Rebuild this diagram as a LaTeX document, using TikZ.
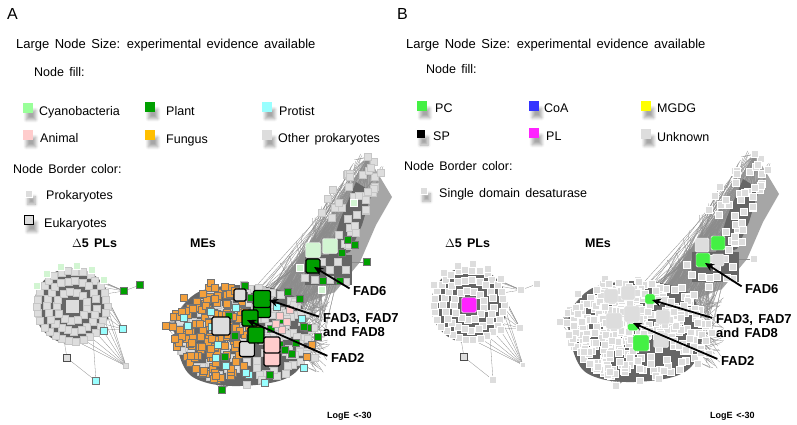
\documentclass[tikz,border=0pt]{standalone}
\usepackage{fontspec}
\setmainfont{Liberation Sans}[WordSpace=1.5]
\usetikzlibrary{arrows.meta, shadows.blur}

\definecolor{cyanokey}{HTML}{99FF99}
\definecolor{cyanolight}{HTML}{D2F5D2}
\definecolor{plantgreen}{HTML}{00A000}
\definecolor{protistcyan}{HTML}{99FFFF}
\definecolor{animalpink}{HTML}{FFCCCC}
\definecolor{funguskey}{HTML}{FFBF00}
\definecolor{fungusnet}{HTML}{F3A03C}
\definecolor{othergray}{HTML}{DDDDDD}
\definecolor{pcgreen}{HTML}{44F044}
\definecolor{coablue}{HTML}{3333FF}
\definecolor{mgdgyellow}{HTML}{FFFF00}
\definecolor{plmagenta}{HTML}{FF22FF}
\definecolor{edgedark}{HTML}{666666}

\tikzset{
  panel_label/.style={anchor=base west, inner sep=0pt, font=\fontsize{16}{18}\selectfont},
  head_text/.style={anchor=base west, inner sep=0pt, font=\fontsize{13}{15}\selectfont},
  legend_text/.style={anchor=base west, inner sep=0pt, font=\fontsize{12.5}{14}\selectfont},
  key_sq/.style={rectangle, inner sep=0pt, minimum size=9.5pt,
    blur shadow={shadow xshift=3pt, shadow yshift=-7pt, shadow blur steps=6, shadow blur radius=3pt, shadow opacity=35}},
  cluster_label/.style={anchor=base west, inner sep=0pt, font=\fontsize{12.5}{14}\selectfont\bfseries},
  fad_label/.style={anchor=base west, inner sep=0pt, font=\fontsize{13}{14.5}\selectfont\bfseries, align=left},
  fad_arrow/.style={-{Stealth[length=9pt,width=8pt]}, line width=1.8pt, shorten <=4pt},
  loge_label/.style={anchor=base west, inner sep=0pt, font=\fontsize{9}{10}\selectfont\bfseries},
  edge_line/.style={draw=gray!90, line width=0.3pt},
  dense_fill/.style={fill=edgedark},
  arm_fill/.style={fill=gray!70},
  net_sq/.style={rectangle, inner sep=0pt, minimum size=7pt, line width=0.4pt},
  othernode/.style={net_sq, fill=othergray, draw=gray!45},
  cyanonode/.style={net_sq, fill=cyanolight, draw=white},
  fungusnode/.style={net_sq, fill=fungusnet, draw=black!55},
  plantnode/.style={net_sq, fill=plantgreen, draw=black!55},
  protistnode/.style={net_sq, fill=protistcyan, draw=black!55},
  animalnode/.style={net_sq, fill=animalpink, draw=black!35},
  unknownnode/.style={net_sq, fill=othergray, draw=white, line width=0.6pt},
  big_sq/.style={rectangle, rounded corners=1.5pt, inner sep=0pt, minimum size=16pt},
  euk_border/.style={draw=black, line width=1.2pt}
}

% Delta5 PL cluster (panel A coordinates)
\newcommand{\deltanet}{%
  \pgfmathsetseed{3}
  \coordinate (d-c) at (72,306);
  \coordinate (d-o1) at (124,291);
  \coordinate (d-o2) at (140,285);
  \coordinate (d-o3) at (104,331);
  \coordinate (d-o4) at (123,329);
  \coordinate (d-o5) at (126,366);
  \coordinate (d-o6) at (67,358);
  \coordinate (d-o7) at (96,381);
  \foreach \a in {-85,-72,...,-10}{\draw[edge_line] ({72+35*cos(\a)},{306+35*sin(\a)}) -- (d-o1);}
  \foreach \a in {-35,-22,...,45}{\draw[edge_line] ({72+35*cos(\a)},{306+35*sin(\a)}) -- (d-o4);}
  \foreach \a in {0,12,...,84}{\draw[edge_line] ({72+35*cos(\a)},{306+35*sin(\a)}) -- (d-o5);}
  \draw[edge_line] (d-o1) -- (d-o2);
  \draw[edge_line] (d-o6) -- (d-o7);
  \draw[edge_line] (d-o6) -- (64,340);
  \draw[edge_line] (d-o7) -- (93,338);
  \fill[dense_fill] (d-c) circle[radius=38];
  \foreach \a [count=\k] in {0,12,...,350}{\node[othernode] (d-r\k) at ({72+35*cos(\a)+2*rnd-1},{306+35*sin(\a)+2*rnd-1}) {};}
  \foreach \a [count=\k] in {5,21,...,355}{\node[othernode] (d-s\k) at ({72+25*cos(\a)+2*rnd-1},{306+25*sin(\a)+2*rnd-1}) {};}
  \foreach \a [count=\k] in {10,38,...,355}{\node[othernode] (d-t\k) at ({72+15*cos(\a)+rnd-0.5},{306+15*sin(\a)+rnd-0.5}) {};}
  \foreach \a in {-150,-128,...,-40}{\node[cyanonode] (d-u\a) at ({72+41*cos(\a)},{306+41*sin(\a)}) {};}
  \node[othernode, draw=none, minimum size=13pt] (d-core) at (d-c) {};
  \node[plantnode] (d-n1) at (d-o1) {};
  \node[plantnode] (d-n2) at (d-o2) {};
  \node[protistnode] (d-n3) at (d-o3) {};
  \node[protistnode] (d-n4) at (d-o4) {};
  \node[othernode, minimum size=5pt] (d-n5) at (d-o5) {};
  \node[othernode, draw=black!70, line width=0.8pt] (d-n6) at (d-o6) {};
  \node[protistnode] (d-n7) at (d-o7) {};
}

% edge bundle running up to the upper cluster
\newcommand{\armnet}{%
  \pgfmathsetseed{21}
  \coordinate (arm-tip) at (368,157);
  \fill[arm_fill] (arm-tip) -- (392,197) -- (376,225) -- (360,262) -- (335,292) -- (300,305) -- (268,300) -- (296,262) -- (326,222) -- (348,188) -- cycle;
  \foreach \i in {1,...,190}{
    \pgfmathsetmacro\ta{rnd}\pgfmathsetmacro\sa{rnd-0.5}
    \pgfmathsetmacro\aw{60*(1-0.5*\ta)}
    \draw[edge_line] ({250+75*rnd},{288+50*rnd}) -- ({302+70*\ta+0.87*\aw*\sa},{282-122*\ta+0.49*\aw*\sa});
  }
  \foreach \i in {1,...,30}{
    \pgfmathsetmacro\ta{0.55+0.4*rnd}\pgfmathsetmacro\sa{rnd-0.5}
    \pgfmathsetmacro\aw{60*(1-0.5*\ta)}
    \draw[edge_line] (arm-tip) -- ({302+70*\ta+0.87*\aw*\sa},{282-122*\ta+0.49*\aw*\sa});
  }
  \fill[dense_fill] (356,182) -- (372,192) -- (362,225) -- (350,252) -- (328,258) -- (340,220) -- cycle;
  \foreach \i in {1,...,38}{
    \pgfmathsetmacro\ta{0.35+0.65*rnd}\pgfmathsetmacro\sa{rnd-0.5}
    \pgfmathsetmacro\aw{60*(1-0.5*\ta)}
    \node[othernode] (arm-n\i) at ({302+70*\ta+0.87*\aw*\sa},{282-122*\ta+0.49*\aw*\sa}) {};
  }
  \node[othernode] (arm-t) at (arm-tip) {};
  \node[cyanonode] (arm-c1) at (354,203) {};
  % upper cluster around FAD6
  \fill[dense_fill] (305,255) rectangle (352,285);
  \foreach \p [count=\k] in {(322,262),(330,270),(338,262),(346,270),(330,280),(346,282),(305,278),(315,280)}{
    \node[othernode] (up-g\k) at \p {};
  }
  \node[cyanonode] (up-c1) at (300,268) {};
  \node[cyanonode] (up-c2) at (322,290) {};
  \foreach \p [count=\k] in {(348,240),(355,245),(367,262),(342,253),(323,281),(340,281)}{
    \node[plantnode] (up-p\k) at \p {};
  }
  \draw[edge_line] (up-p3) -- (352,262);
}

% main ME cluster
\newcommand{\menet}{%
  \pgfmathsetseed{5}
  \coordinate (me-left) at (166,326);
  \coordinate (me-bottom) at (222,390);
  \foreach \i in {1,...,25}{\draw[edge_line] (me-left) -- ({185+30*rnd},{298+55*rnd});}
  \foreach \i in {1,...,12}{\draw[edge_line] (me-bottom) -- ({200+45*rnd},{362+15*rnd});}
  \foreach \i in {1,...,60}{\draw[edge_line] ({265+40*rnd},{295+75*rnd}) -- ({312+18*rnd},{298+75*rnd});}
  \fill[dense_fill] plot[smooth cycle, tension=0.6] coordinates {(174,326) (187,301) (207,289) (245,285) (279,290) (300,303) (308,335) (302,364) (282,380) (240,386) (204,382) (184,367)};
  \foreach \i in {1,...,170}{
    \pgfmathsetmacro\ra{360*rnd}\pgfmathsetmacro\rr{sqrt(rnd)}
    \node[othernode] (me-g\i) at ({246+70*\rr*cos(\ra)},{335+51*\rr*sin(\ra)}) {};
  }
  \foreach \i in {1,...,170}{
    \pgfmathsetmacro\ra{360*rnd}\pgfmathsetmacro\rr{sqrt(rnd)}
    \node[fungusnode] (me-f\i) at ({214+42*\rr*cos(\ra)},{331+51*\rr*sin(\ra)}) {};
  }
  \foreach \i in {1,...,16}{
    \pgfmathsetmacro\ra{360*rnd}\pgfmathsetmacro\rr{sqrt(rnd)}
    \node[protistnode] (me-c\i) at ({240+70*\rr*cos(\ra)},{340+48*\rr*sin(\ra)}) {};
  }
  \foreach \i in {1,...,18}{
    \pgfmathsetmacro\ra{360*rnd}\pgfmathsetmacro\rr{sqrt(rnd)}
    \node[plantnode] (me-p\i) at ({255+62*\rr*cos(\ra)},{332+50*\rr*sin(\ra)}) {};
  }
  \foreach \p [count=\k] in {(280,316),(287,322),(282,330),(290,310),(276,324)}{
    \node[animalnode] (me-a\k) at \p {};
  }
  \node[plantnode] (me-e1) at (318,337) {};
  \node[fungusnode] (me-e2) at (312,345) {};
  \node[fungusnode] (me-e3) at (307,357) {};
  \node[othernode] (me-e4) at (315,358) {};
  \node[protistnode] (me-e5) at (304,368) {};
  \node[fungusnode] (me-e6) at (166,326) {};
  \node[plantnode] (me-e7) at (222,390) {};
}

\begin{document}
\begin{tikzpicture}[x=1pt,y=-1pt]
\useasboundingbox (0,0) rectangle (797,424);

% ---------------- Panel A ----------------
\node[panel_label] (labA) at (7,19) {A};
\node[head_text] (sizeA) at (16,48) {Large Node Size: experimental evidence available};
\node[legend_text] (fillA) at (34,76) {Node fill:};

\node[key_sq, fill=cyanokey] (kcyano) at (28,108) {};
\node[legend_text] (tcyano) at (39,115) {Cyanobacteria};
\node[key_sq, fill=plantgreen] (kplant) at (150,107) {};
\node[legend_text] (tplant) at (166,115) {Plant};
\node[key_sq, fill=protistcyan] (kprotist) at (267,107) {};
\node[legend_text] (tprotist) at (279,115) {Protist};
\node[key_sq, fill=animalpink] (kanimal) at (28,135) {};
\node[legend_text] (tanimal) at (40,142) {Animal};
\node[key_sq, fill=funguskey] (kfungus) at (150,135) {};
\node[legend_text] (tfungus) at (166,143) {Fungus};
\node[key_sq, fill=othergray] (kother) at (267,135) {};
\node[legend_text] (tother) at (278,142) {Other prokaryotes};

\node[legend_text] (borderA) at (13,173) {Node Border color:};
\node[key_sq, fill=othergray, draw=white, minimum size=7.5pt] (kprok) at (28.5,193.5) {};
\node[legend_text] (tprok) at (46,199) {Prokaryotes};
\node[key_sq, fill=othergray, draw=black, line width=1.3pt] (keuk) at (29,220) {};
\node[legend_text] (teuk) at (44,227) {Eukaryotes};

\node[cluster_label] (d5A) at (72,247) {$\Delta$5 PLs};
\node[cluster_label] (meA) at (190,247) {MEs};

\deltanet
\armnet
\menet

% large nodes with experimental evidence
\node[big_sq, fill=cyanolight, draw=white, minimum size=15pt] (a-up1) at (313,250) {};
\node[big_sq, fill=cyanolight, draw=white, minimum size=15pt] (a-up2) at (330,246) {};
\node[big_sq, fill=plantgreen, euk_border, minimum size=14pt] (a-fad6) at (313,266) {};
\node[big_sq, fill=othergray, euk_border, minimum size=12pt] (a-g1) at (240,295) {};
\node[big_sq, fill=othergray, euk_border, minimum size=18pt] (a-g2) at (221,326) {};
\node[big_sq, fill=othergray, euk_border, minimum size=15pt] (a-g3) at (247,349) {};
\node[big_sq, fill=plantgreen, euk_border, minimum size=17pt] (a-p0) at (262,309) {};
\node[big_sq, fill=plantgreen, euk_border, minimum size=17pt] (a-fad3) at (262,299) {};
\node[big_sq, fill=plantgreen, euk_border] (a-fad2) at (250,318) {};
\node[big_sq, fill=plantgreen, euk_border] (a-p1) at (256,335) {};
\node[big_sq, fill=animalpink, euk_border] (a-a0) at (272,358) {};
\node[big_sq, fill=animalpink, euk_border] (a-a1) at (272,345) {};

\node[fad_label] (fad6A) at (353,295) {FAD6};
\node[fad_label, anchor=north west] (fad3A) at (323,313) {FAD3, FAD7\\and FAD8};
\node[fad_label] (fad2A) at (331,362) {FAD2};
\coordinate (fad6A-tip) at (314,267);
\coordinate (fad3A-tip) at (269,300);
\coordinate (fad2A-tip) at (247,320);
\draw[fad_arrow] (fad6A.west) -- (fad6A-tip);
\draw[fad_arrow] ([yshift=-5pt]fad3A.north west) -- (fad3A-tip);
\draw[fad_arrow] (fad2A.west) -- (fad2A-tip);
\node[loge_label] (logeA) at (327,418) {LogE <-30};

% ---------------- Panel B ----------------
\node[panel_label] (labB) at (397,19) {B};
\node[head_text] (sizeB) at (406,48) {Large Node Size: experimental evidence available};
\node[legend_text] (fillB) at (426,73) {Node fill:};

\node[key_sq, fill=pcgreen] (kpc) at (422,106) {};
\node[legend_text] (tpc) at (435,112) {PC};
\node[key_sq, fill=coablue] (kcoa) at (534,106) {};
\node[legend_text] (tcoa) at (544,112) {CoA};
\node[key_sq, fill=mgdgyellow] (kmgdg) at (646,106) {};
\node[legend_text] (tmgdg) at (657,112) {MGDG};
\node[key_sq, fill=black, minimum size=8pt] (ksp) at (421,134) {};
\node[legend_text] (tsp) at (433,140) {SP};
\node[key_sq, fill=plmagenta] (kpl) at (534,133) {};
\node[legend_text] (tpl) at (546,140) {PL};
\node[key_sq, fill=othergray] (kunk) at (646,134) {};
\node[legend_text] (tunk) at (657,141) {Unknown};

\node[legend_text] (borderB) at (404,170) {Node Border color:};
\node[key_sq, fill=othergray, draw=white, minimum size=7.5pt] (ksingle) at (423.5,190.5) {};
\node[legend_text] (tsingle) at (439,197) {Single domain desaturase};

\node[cluster_label] (d5B) at (445,247) {$\Delta$5 PLs};
\node[cluster_label] (meB) at (585,247) {MEs};

\begin{scope}[othernode/.style={unknownnode}, cyanonode/.style={unknownnode},
  fungusnode/.style={unknownnode}, plantnode/.style={unknownnode},
  protistnode/.style={unknownnode}, animalnode/.style={unknownnode}]
  \begin{scope}[shift={(397,-1)}]
    \deltanet
    \node[big_sq, fill=plmagenta, draw=white, minimum size=15pt] (b-pl) at (d-c) {};
  \end{scope}
  \begin{scope}[shift={(387,-3)}]
    \armnet
  \end{scope}
  \begin{scope}[shift={(394,-4)}]
    \menet
  \end{scope}
\end{scope}

\node[big_sq, fill=othergray, draw=white, minimum size=14pt] (b-up1) at (702,245) {};
\node[big_sq, fill=pcgreen, draw=white, minimum size=14pt] (b-up2) at (718,243) {};
\node[big_sq, fill=pcgreen, draw=white, minimum size=14pt] (b-fad6) at (703,260) {};
\node[big_sq, fill=othergray, draw=white, minimum size=12pt] (b-up3) at (718,260) {};
\node[big_sq, fill=othergray, draw=white, minimum size=14pt] (b-g1) at (611,296) {};
\node[big_sq, fill=othergray, draw=white, minimum size=14pt] (b-g2) at (628,293) {};
\node[big_sq, fill=othergray, draw=white, minimum size=16pt] (b-g3) at (614,321) {};
\node[big_sq, fill=othergray, draw=white, minimum size=16pt] (b-g4) at (632,314) {};
\node[big_sq, fill=othergray, draw=white, minimum size=15pt] (b-g5) at (661,340) {};
\node[big_sq, fill=othergray, draw=white, minimum size=14pt] (b-g6) at (663,317) {};
\node[big_sq, fill=pcgreen, draw=white, minimum size=10pt] (b-fad3) at (650,299) {};
\node[big_sq, fill=pcgreen, draw=white, minimum width=11pt, minimum height=7pt] (b-fad2) at (633,327) {};
\node[big_sq, fill=pcgreen, draw=white, minimum size=16pt] (b-p1) at (641,343) {};

\node[fad_label] (fad6B) at (745,293) {FAD6};
\node[fad_label, anchor=north west] (fad3B) at (716,314) {FAD3, FAD7\\and FAD8};
\node[fad_label] (fad2B) at (721,365) {FAD2};
\coordinate (fad6B-tip) at (705,263);
\coordinate (fad3B-tip) at (652,300);
\coordinate (fad2B-tip) at (633,323);
\draw[fad_arrow] (fad6B.west) -- (fad6B-tip);
\draw[fad_arrow] ([yshift=-5pt]fad3B.north west) -- (fad3B-tip);
\draw[fad_arrow] (fad2B.west) -- (fad2B-tip);
\node[loge_label] (logeB) at (710,418) {LogE <-30};
\end{tikzpicture}
\end{document}
